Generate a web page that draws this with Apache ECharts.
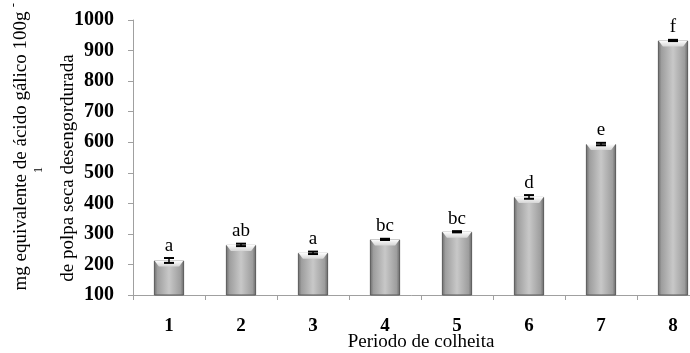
<!DOCTYPE html>
<html><head><meta charset="utf-8">
<script src="https://cdn.jsdelivr.net/npm/echarts@6/dist/echarts.min.js"></script>
<style>html,body{margin:0;padding:0;background:#fff}#c{width:690px;height:353px}</style>
</head><body><div id="c"></div>
<script>
var categories = ['1','2','3','4','5','6','7','8'];
var values = [213, 264, 238, 282, 307, 421, 594, 933];
var errors = [8, 4, 4, 2, 2, 6, 4, 2];
var letters = ['a','ab','a','bc','bc','d','e','f'];
var yTicks = [100, 1000, 100]; // min, max, interval

var chart = echarts.init(document.getElementById('c'));
var serif = '"Liberation Serif","Times New Roman",serif';
var barGrad = new echarts.graphic.LinearGradient(0,0,1,0,[
  {offset:0,color:'#6a6a6a'},{offset:0.12,color:'#9e9e9e'},
  {offset:0.5,color:'#c8c8c8'},{offset:0.88,color:'#9e9e9e'},{offset:1,color:'#666666'}]);
chart.setOption({
  animation:false,
  grid:{left:133,right:-19,top:20,bottom:58,outerBoundsMode:'none',containLabel:false},
  xAxis:{type:'category',data:categories,
    axisLine:{lineStyle:{color:'#a0a0a0',width:1}},
    axisTick:{show:true,length:5,lineStyle:{color:'#a0a0a0'}},
    axisLabel:{fontFamily:serif,fontWeight:'bold',fontSize:19,color:'#000',margin:22},
    name:'Periodo de colheita',nameLocation:'middle',nameGap:38,nameMoveOverlap:false,
    nameTextStyle:{fontFamily:serif,fontSize:19,color:'#000'}},
  yAxis:{type:'value',min:yTicks[0],max:yTicks[1],interval:yTicks[2],
    axisLine:{show:true,lineStyle:{color:'#a0a0a0'}},
    axisTick:{show:true,length:5,lineStyle:{color:'#a0a0a0'}},
    splitLine:{show:false},
    axisLabel:{fontFamily:serif,fontWeight:'bold',fontSize:20,color:'#000',margin:19,
      formatter:function(v){return String(v);}}},
  series:[
    {type:'bar',data:values,barWidth:'42%',
     itemStyle:{color:barGrad,borderColor:'#5a5a5a',borderWidth:1}},
    {type:'custom',data:values.map(function(v,i){return [i,v,errors[i],letters[i]];}),
     z:5,
     renderItem:function(params,api){
       var i=api.value(0),v=api.value(1),e=api.value(2);
       var top=api.coord([i,v]);
       var hi=api.coord([i,v+e]);
       var lo=api.coord([i,v-e]);
       var bw=api.size([1,0])[0]*0.42;
       var x0=top[0]-bw/2,x1=top[0]+bw/2;
       var cw=5;
       return {type:'group',children:[
         {type:'polygon',shape:{points:[[x0+0.5,top[1]],[x1-0.5,top[1]],[x1-5,top[1]+6],[x0+5,top[1]+6]]},
          style:{fill:new echarts.graphic.LinearGradient(0,0,0,1,[{offset:0,color:'#ffffff'},{offset:1,color:'#d6d6d6'}])}},
         {type:'line',shape:{x1:hi[0],y1:hi[1],x2:lo[0],y2:lo[1]},style:{stroke:'#000',lineWidth:1.5}},
         {type:'line',shape:{x1:hi[0]-cw,y1:hi[1],x2:hi[0]+cw,y2:hi[1]},style:{stroke:'#000',lineWidth:2}},
         {type:'line',shape:{x1:lo[0]-cw,y1:lo[1],x2:lo[0]+cw,y2:lo[1]},style:{stroke:'#000',lineWidth:2}},
         {type:'text',style:{text:api.value(3),x:top[0],y:hi[1]-3,textAlign:'center',textVerticalAlign:'bottom',
           font:'19px '+serif,fill:'#000'}}
       ]};
     }}
  ],
  graphic:[
    {type:'text',x:21,y:151,rotation:Math.PI/2,style:{text:'mg equivalente de ácido gálico 100g',font:'19px '+serif,fill:'#000',textAlign:'center',textVerticalAlign:'middle'}},
    {type:'text',x:14,y:5,rotation:Math.PI/2,style:{text:'-',font:'13px '+serif,fill:'#000',textAlign:'center',textVerticalAlign:'middle'}},
    {type:'text',x:39,y:170,rotation:Math.PI/2,style:{text:'1',font:'12px '+serif,fill:'#000',textAlign:'center',textVerticalAlign:'middle'}},
    {type:'text',x:68,y:168,rotation:Math.PI/2,style:{text:'de polpa seca desengordurada',font:'19px '+serif,fill:'#000',textAlign:'center',textVerticalAlign:'middle'}}
  ]
});
</script></body></html>
